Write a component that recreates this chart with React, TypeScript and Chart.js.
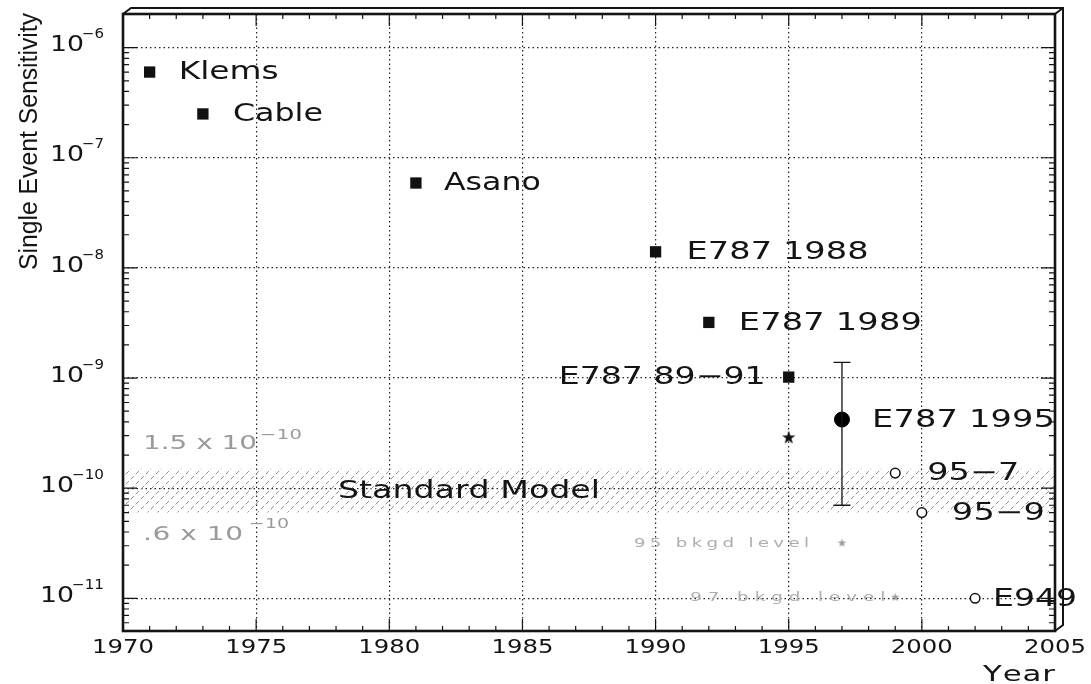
import React, { useEffect, useRef } from 'react';
import { Chart, registerables } from 'chart.js';

Chart.register(...registerables);

// ---------------- data ----------------
const X_MIN = 1970;
const X_MAX = 2005;
const Y_MIN = 5.05e-12;
const Y_MAX = 2.02e-6;
const X_TICK_YEARS = [1970, 1975, 1980, 1985, 1990, 1995, 2000, 2005];
const X_GRID_YEARS = [1975, 1980, 1985, 1990, 1995, 2000];
const Y_DECADES = [-11, -10, -9, -8, -7, -6];

const PAST_LABELS = ['Klems', 'Cable', 'Asano', 'E787 1988', 'E787 1989', 'E787 89\u221291'];
const PAST_YEARS = [1971, 1973, 1981, 1990, 1992, 1995];
const PAST_SES = [6.0e-7, 2.5e-7, 5.9e-8, 1.4e-8, 3.2e-9, 1.02e-9];

const RESULT_LABELS = ['E787 1995'];
const RESULT_YEARS = [1997];
const RESULT_VALUES = [4.2e-10];
const RESULT_LOW = [7.0e-11];
const RESULT_HIGH = [1.39e-9];

const STAR_YEARS = [1995];
const STAR_VALUES = [2.9e-10];

const FUTURE_LABELS = ['95\u22127', '95\u22129', 'E949'];
const FUTURE_YEARS = [1999, 2000, 2002];
const FUTURE_SES = [1.37e-10, 6.0e-11, 1.0e-11];

const BKGD_LABELS = ['95 bkgd level', '97 bkgd level'];
const BKGD_YEARS = [1997, 1999];
const BKGD_VALUES = [3.2e-11, 1.03e-11];

const SM_LOW = 0.6e-10;
const SM_HIGH = 1.5e-10;
const SM_TEXT = 'Standard Model';
const X_TITLE = 'Year';
const Y_TITLE = 'Single Event Sensitivity';

// ---------------- layout / style ----------------
const W = 1091;
const H = 684;
const AREA = { left: 123, top: 14, right: 1055, bottom: 631 };
const INK = '#141414';
const FAINT = '#9a9a9a';
const GEO = "'DejaVu Sans', sans-serif";
const HELV = "'Liberation Sans', Arial, sans-serif";

type Align = 'left' | 'right' | 'center';
const PAST_STYLE: { dx: number; w: number; align: Align }[] = [
  { dx: 29, w: 100, align: 'left' },
  { dx: 30, w: 90, align: 'left' },
  { dx: 28, w: 97, align: 'left' },
  { dx: 31, w: 182, align: 'left' },
  { dx: 30, w: 183, align: 'left' },
  { dx: -23, w: 207, align: 'right' },
];
const RESULT_STYLE = [{ dx: 30, w: 183, align: 'left' as Align }];
const FUTURE_STYLE: { dx: number; w: number; align: Align }[] = [
  { dx: 32, w: 92, align: 'left' },
  { dx: 30, w: 93, align: 'left' },
  { dx: 18, w: 84, align: 'left' },
];
const BKGD_STYLE: { dx: number; w: number; align: Align }[] = [
  { dx: -33, w: 175, align: 'right' },
  { dx: -10, w: 195, align: 'right' },
];

type TextOpt = {
  size: number;
  family?: string;
  width?: number;
  align?: Align;
  color?: string;
  maxScale?: number;
  baseline?: CanvasTextBaseline;
};

function drawText(ctx: CanvasRenderingContext2D, text: string, x: number, y: number, o: TextOpt): number {
  ctx.save();
  ctx.font = `normal ${o.size}px ${o.family ?? GEO}`;
  ctx.fillStyle = o.color ?? INK;
  ctx.textBaseline = o.baseline ?? 'middle';
  ctx.textAlign = 'left';
  const chars = Array.from(text);
  const cw = chars.map((c) => ctx.measureText(c).width);
  const natural = cw.reduce((a, b) => a + b, 0);
  let sx = 1;
  let ls = 0;
  if (o.width) {
    const maxS = o.maxScale ?? 1.4;
    if (natural * maxS >= o.width || chars.length < 2) sx = o.width / natural;
    else {
      sx = maxS;
      ls = (o.width / sx - natural) / (chars.length - 1);
    }
  }
  const total = sx * (natural + ls * (chars.length - 1));
  const align = o.align ?? 'left';
  const start = align === 'left' ? x : align === 'right' ? x - total : x - total / 2;
  ctx.translate(start, y);
  ctx.scale(sx, 1);
  let cx = 0;
  chars.forEach((c, i) => {
    ctx.fillText(c, cx, 0);
    cx += cw[i] + ls;
  });
  ctx.restore();
  return total;
}

function makeStar(size: number, color: string): HTMLCanvasElement {
  const c = document.createElement('canvas');
  c.width = size;
  c.height = size;
  const g = c.getContext('2d')!;
  g.fillStyle = color;
  g.beginPath();
  for (let i = 0; i < 10; i++) {
    const r = i % 2 === 0 ? size * 0.5 : size * 0.2;
    const a = -Math.PI / 2 + (i * Math.PI) / 5;
    const px = size / 2 + r * Math.cos(a);
    const py = size / 2 + 0.5 + r * Math.sin(a);
    if (i === 0) g.moveTo(px, py);
    else g.lineTo(px, py);
  }
  g.closePath();
  g.fill();
  return c;
}

function makeHatch(ctx: CanvasRenderingContext2D): CanvasPattern {
  const c = document.createElement('canvas');
  c.width = 10;
  c.height = 10;
  const g = c.getContext('2d')!;
  g.strokeStyle = '#8a8a8a';
  g.lineWidth = 1;
  g.lineCap = 'round';
  g.beginPath();
  g.moveTo(1, 9);
  g.lineTo(3.6, 6.4);
  g.moveTo(6, 4);
  g.lineTo(8.6, 1.4);
  g.stroke();
  return ctx.createPattern(c, 'repeat')!;
}

const overlay = {
  id: 'overlay',
  afterDatasetsDraw(chart: any) {
    const ctx: CanvasRenderingContext2D = chart.ctx;
    const xs = chart.scales.x;
    const ys = chart.scales.y;
    ctx.save();
    ctx.strokeStyle = INK;
    ctx.lineWidth = 1.3;
    RESULT_YEARS.forEach((yr, i) => {
      const x = xs.getPixelForValue(yr);
      const yt = ys.getPixelForValue(RESULT_HIGH[i]);
      const yb = ys.getPixelForValue(RESULT_LOW[i]);
      ctx.beginPath();
      ctx.moveTo(x, yt);
      ctx.lineTo(x, yb);
      ctx.moveTo(x - 8.5, yt);
      ctx.lineTo(x + 8.5, yt);
      ctx.moveTo(x - 8.5, yb);
      ctx.lineTo(x + 8.5, yb);
      ctx.stroke();
    });
    ctx.restore();
  },
  afterDraw(chart: any) {
    const ctx: CanvasRenderingContext2D = chart.ctx;
    const xs = chart.scales.x;
    const ys = chart.scales.y;
    const { left, right, top, bottom } = chart.chartArea;

    // ticks
    ctx.save();
    ctx.strokeStyle = INK;
    ctx.lineWidth = 1.2;
    ctx.beginPath();
    for (let yr = X_MIN + 1; yr < X_MAX; yr++) {
      const x = xs.getPixelForValue(yr);
      const len = yr % 5 === 0 ? 12 : 5;
      ctx.moveTo(x, bottom);
      ctx.lineTo(x, bottom - len);
      ctx.moveTo(x, top);
      ctx.lineTo(x, top + len);
    }
    for (let d = -12; d <= -6; d++) {
      for (let m = 1; m <= 9; m++) {
        const v = m * Math.pow(10, d);
        if (v <= Y_MIN || v >= Y_MAX) continue;
        const y = ys.getPixelForValue(v);
        const len = m === 1 ? 14 : 6;
        ctx.moveTo(left, y);
        ctx.lineTo(left + len, y);
        ctx.moveTo(right, y);
        ctx.lineTo(right - len, y);
      }
    }
    ctx.stroke();

    // frame with 3D back edge
    ctx.lineWidth = 2.6;
    ctx.strokeRect(left, top, right - left, bottom - top);
    const dx = 8;
    const dy = -6;
    ctx.lineWidth = 2;
    ctx.beginPath();
    ctx.moveTo(left, top);
    ctx.lineTo(left + dx, top + dy);
    ctx.lineTo(right + dx, top + dy);
    ctx.lineTo(right + dx, bottom + dy);
    ctx.lineTo(right, bottom);
    ctx.moveTo(right, top);
    ctx.lineTo(right + dx, top + dy);
    ctx.stroke();
    ctx.restore();

    // x tick labels
    X_TICK_YEARS.forEach((yr) => {
      drawText(ctx, String(yr), xs.getPixelForValue(yr), 648.5, { size: 19, width: 62, align: 'center' });
    });
    drawText(ctx, X_TITLE, right, 675, { size: 22, width: 72, align: 'right' });

    // y tick labels
    Y_DECADES.forEach((d) => {
      const y = ys.getPixelForValue(Math.pow(10, d));
      const supW = drawText(ctx, '\u2212' + Math.abs(d), 104, y - 13, {
        size: 14,
        width: Math.abs(d) >= 10 ? 32 : 22,
        align: 'right',
      });
      drawText(ctx, '10', 104 - supW + 2, y - 2, { size: 22, width: 34, align: 'right' });
    });

    // y title
    ctx.save();
    ctx.translate(37, 270);
    ctx.rotate(-Math.PI / 2);
    drawText(ctx, Y_TITLE, 0, 0, { size: 25, family: HELV, width: 257, maxScale: 10, baseline: 'alphabetic' });
    ctx.restore();

    // standard model band labels
    const yHi = ys.getPixelForValue(SM_HIGH);
    const yLo = ys.getPixelForValue(SM_LOW);
    const hiTxt = (SM_HIGH / 1e-10).toFixed(1) + ' x 10';
    const loTxt = (SM_LOW / 1e-10).toFixed(1).replace(/^0/, '') + ' x 10';
    const w1 = drawText(ctx, hiTxt, 143, yHi - 25, { size: 20, width: 114, color: FAINT });
    drawText(ctx, '\u221210', 143 + w1 + 3, yHi - 33, { size: 14, width: 42, color: FAINT });
    const w2 = drawText(ctx, loTxt, 143, yLo + 22, { size: 20, width: 100, color: FAINT });
    drawText(ctx, '\u221210', 143 + w2 + 6, yLo + 12, { size: 14, width: 40, color: FAINT });
    drawText(ctx, SM_TEXT, 338, (yHi + yLo) / 2 + 1, { size: 24, width: 262 });

    // data labels
    const put = (
      labels: string[],
      years: number[],
      vals: number[],
      st: { dx: number; w: number; align: Align }[],
      size: number,
      color: string,
    ) => {
      labels.forEach((t, i) => {
        const x = xs.getPixelForValue(years[i]) + st[i].dx;
        const y = ys.getPixelForValue(vals[i]) + 1;
        drawText(ctx, t, x, y, { size, width: st[i].w, align: st[i].align, color });
      });
    };
    put(PAST_LABELS, PAST_YEARS, PAST_SES, PAST_STYLE, 24, INK);
    put(RESULT_LABELS, RESULT_YEARS, RESULT_VALUES, RESULT_STYLE, 24, INK);
    put(FUTURE_LABELS, FUTURE_YEARS, FUTURE_SES, FUTURE_STYLE, 24, INK);
    put(BKGD_LABELS, BKGD_YEARS, BKGD_VALUES, BKGD_STYLE, 13, '#adadad');
  },
};

export default function App() {
  const ref = useRef<HTMLCanvasElement>(null);
  useEffect(() => {
    document.body.style.margin = '0';
    document.body.style.overflow = 'hidden';
    const canvas = ref.current!;
    const ctx = canvas.getContext('2d')!;
    const hatch = makeHatch(ctx);
    const star = makeStar(14, '#111');
    const faintStar = makeStar(9, '#999');
    const pts = (xs: number[], ys: number[]) => xs.map((x, i) => ({ x, y: ys[i] }));

    const chart = new Chart(canvas, {
      type: 'line',
      data: {
        datasets: [
          {
            label: 'past',
            data: pts(PAST_YEARS, PAST_SES),
            showLine: false,
            pointStyle: 'rect',
            pointRadius: 8,
            backgroundColor: '#111',
            borderColor: '#111',
            borderWidth: 0,
          },
          {
            label: 'E787 1995',
            data: pts(RESULT_YEARS, RESULT_VALUES),
            showLine: false,
            pointStyle: 'circle',
            pointRadius: 7.5,
            backgroundColor: '#000',
            borderColor: '#000',
            borderWidth: 1,
          },
          {
            label: 'star',
            data: pts(STAR_YEARS, STAR_VALUES),
            showLine: false,
            pointStyle: star as any,
            pointRadius: 6,
          },
          {
            label: 'future',
            data: pts(FUTURE_YEARS, FUTURE_SES),
            showLine: false,
            pointStyle: 'circle',
            pointRadius: 4.8,
            backgroundColor: '#fff',
            borderColor: '#111',
            borderWidth: 1.5,
          },
          {
            label: 'bkgd',
            data: pts(BKGD_YEARS, BKGD_VALUES),
            showLine: false,
            pointStyle: faintStar as any,
            pointRadius: 4,
          },
          {
            label: 'SM high',
            data: [
              { x: X_MIN, y: SM_HIGH },
              { x: X_MAX, y: SM_HIGH },
            ],
            showLine: true,
            pointRadius: 0,
            borderWidth: 1,
            borderColor: 'rgba(0,0,0,0)',
            fill: false,
            order: 10,
          },
          {
            label: 'SM low',
            data: [
              { x: X_MIN, y: SM_LOW },
              { x: X_MAX, y: SM_LOW },
            ],
            showLine: true,
            pointRadius: 0,
            borderWidth: 1,
            borderColor: 'rgba(0,0,0,0)',
            backgroundColor: hatch as any,
            fill: '-1',
            order: 9,
          },
        ] as any,
      },
      options: {
        responsive: false,
        animation: false,
        devicePixelRatio: 1,
        events: [],
        layout: {
          padding: { left: AREA.left, top: AREA.top, right: W - AREA.right, bottom: H - AREA.bottom },
        },
        plugins: { legend: { display: false }, tooltip: { enabled: false } },
        scales: {
          x: {
            type: 'linear',
            min: X_MIN,
            max: X_MAX,
            afterBuildTicks: (s: any) => {
              s.ticks = X_GRID_YEARS.map((v) => ({ value: v }));
            },
            ticks: { display: false },
            grid: { drawTicks: false, color: '#222', lineWidth: 1.2 },
            border: { display: false, dash: [1.5, 3] },
          },
          y: {
            type: 'logarithmic',
            min: Y_MIN,
            max: Y_MAX,
            afterBuildTicks: (s: any) => {
              s.ticks = Y_DECADES.map((d) => ({ value: Math.pow(10, d) }));
            },
            ticks: { display: false },
            grid: { drawTicks: false, color: '#222', lineWidth: 1.2 },
            border: { display: false, dash: [1.5, 3] },
          },
        },
      } as any,
      plugins: [overlay],
    });
    return () => chart.destroy();
  }, []);

  return (
    <div style={{ width: W, height: H }}>
      <canvas ref={ref} width={W} height={H} style={{ display: 'block', width: W, height: H }} />
    </div>
  );
}
